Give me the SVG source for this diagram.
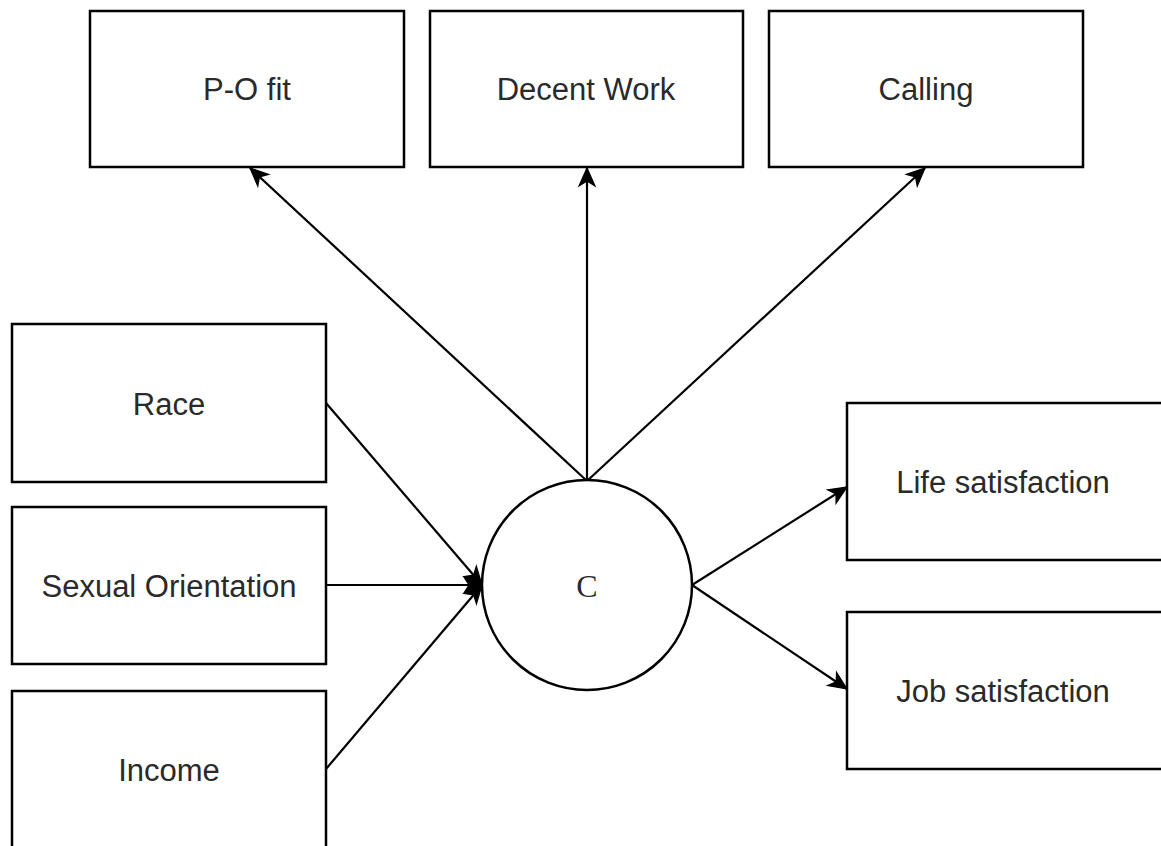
<svg xmlns="http://www.w3.org/2000/svg" width="1161" height="846" viewBox="0 0 1161 846">
<style>
.box{fill:#fff;stroke:#000;stroke-width:2.5}
.lbl{font-family:"Liberation Sans",Arial,sans-serif;font-size:31px;fill:#2a2a2a;text-anchor:middle}
.edge{stroke:#000;stroke-width:2.2;fill:none;marker-end:url(#arr)}
</style>
<defs>
<marker id="arr" markerUnits="userSpaceOnUse" markerWidth="22" markerHeight="22" viewBox="0 0 22 22" refX="20" refY="11" orient="auto">
<path d="M2,3 L20,11 L2,19 L7,11 z" fill="#000" stroke="#000" stroke-width="1.2"/>
</marker>
</defs>
<rect width="1161" height="846" fill="#fff"/>
<g id="connectors">
<line class="edge" x1="587" y1="481" x2="250" y2="168"/>
<line class="edge" x1="587" y1="481" x2="587" y2="168"/>
<line class="edge" x1="587" y1="481" x2="925" y2="168"/>
<line class="edge" x1="326" y1="403" x2="482" y2="585"/>
<line class="edge" x1="326" y1="585" x2="482" y2="585"/>
<line class="edge" x1="326" y1="769" x2="482" y2="585"/>
<line class="edge" x1="692" y1="585" x2="847" y2="487"/>
<line class="edge" x1="692" y1="585" x2="847" y2="689"/>
</g>
<g id="po-fit"><rect class="box" x="90" y="11" width="314" height="156"/><text class="lbl" x="247" y="100">P-O fit</text></g>
<g id="decent-work"><rect class="box" x="430" y="11" width="313" height="156"/><text class="lbl" x="586" y="100">Decent Work</text></g>
<g id="calling"><rect class="box" x="769" y="11" width="314" height="156"/><text class="lbl" x="926" y="100">Calling</text></g>
<g id="race"><rect class="box" x="12" y="324" width="314" height="158"/><text class="lbl" x="169" y="415">Race</text></g>
<g id="sexual-orientation"><rect class="box" x="12" y="507" width="314" height="157"/><text class="lbl" x="169" y="597">Sexual Orientation</text></g>
<g id="income"><rect class="box" x="12" y="691" width="314" height="158"/><text class="lbl" x="169" y="781">Income</text></g>
<g id="c"><circle cx="587" cy="585" r="105" fill="#fff" stroke="#000" stroke-width="2.5"/><text x="587" y="597" font-family="'Liberation Serif','Times New Roman',serif" font-size="32" fill="#2a2a2a" text-anchor="middle">C</text></g>
<g id="life-satisfaction"><rect class="box" x="847" y="403" width="320" height="157"/><text class="lbl" x="1003" y="493">Life satisfaction</text></g>
<g id="job-satisfaction"><rect class="box" x="847" y="612" width="320" height="157"/><text class="lbl" x="1003" y="702">Job satisfaction</text></g>
</svg>
